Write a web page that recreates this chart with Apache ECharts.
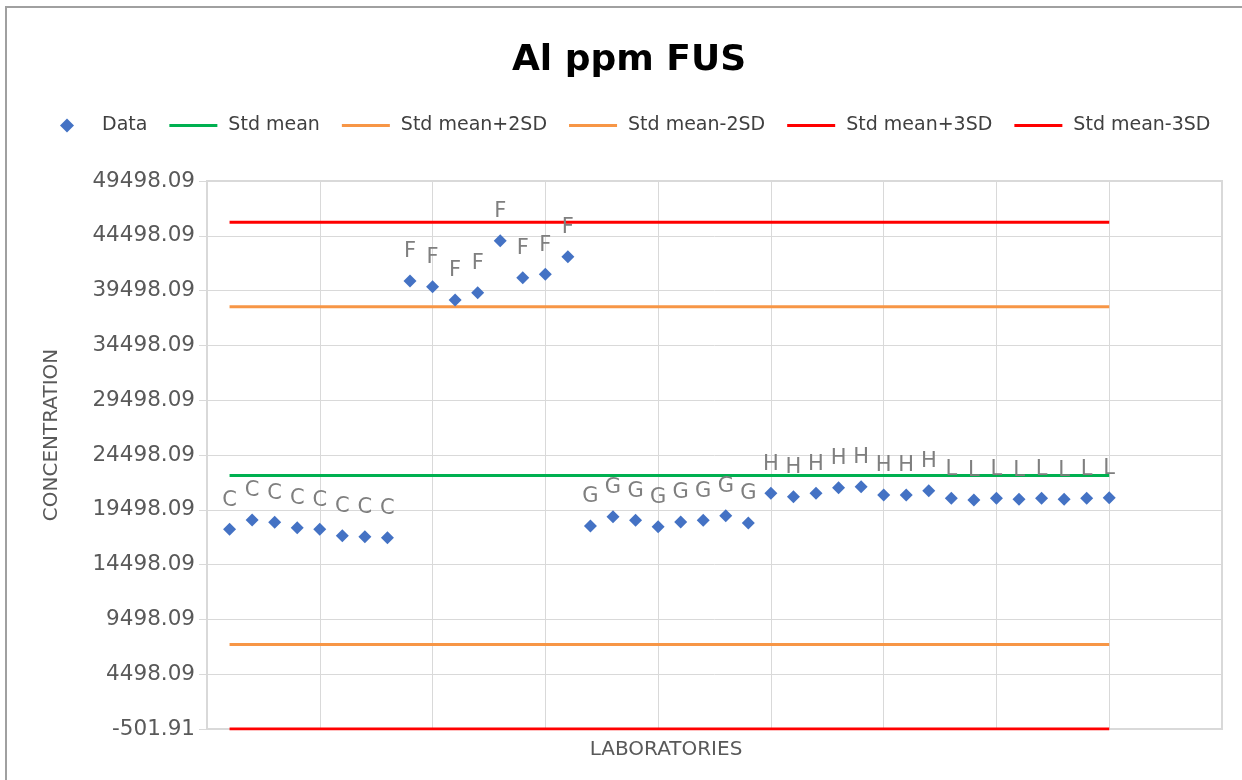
<!DOCTYPE html>
<html>
<head>
<meta charset="utf-8">
<script src="https://cdn.jsdelivr.net/npm/echarts@6/dist/echarts.min.js"></script>
<style>
html,body{margin:0;padding:0;background:#fff;}
#chart{width:1242px;height:780px;}
</style>
</head>
<body>
<div id="chart"></div>
<script>
// ---- data ----
const chartTitle = 'Al ppm FUS';
const labs = [1,2,3,4,5,6,7,8,9,10,11,12,13,14,15,16,17,18,19,20,21,22,23,24,25,26,27,28,29,30,31,32,33,34,35,36,37,38,39,40];
const groups = ['C','C','C','C','C','C','C','C',
                'F','F','F','F','F','F','F','F',
                'G','G','G','G','G','G','G','G',
                'H','H','H','H','H','H','H','H',
                'L','L','L','L','L','L','L','L'];
const conc = [17719,18567,18357,17865,17719,17135,17044,16952,
              40374,39854,38640,39307,44051,40675,40985,42591,
              18020,18868,18540,17956,18385,18540,18960,18294,
              21003,20693,21003,21514,21606,20848,20848,21241,
              20547,20393,20547,20456,20547,20456,20547,20602];
const refNames = ['Std mean','Std mean+2SD','Std mean-2SD','Std mean+3SD','Std mean-3SD'];
const refValues = [22618, 38031, 7205, 45738, -501.91];
const yMin = -501.91, yMax = 49498.09, yStep = 5000;
const xMin = 0, xMax = 45, xStep = 5;

// ---- styles ----
const refColors = ['#00b050','#f79646','#f79646','#ff0000','#ff0000'];
const FONT = 'DejaVu Sans';
const LINE_ICON = 'path://M0,0 L48,0 L48,3 L0,3 Z';
const DIAMOND_ICON = 'path://M7,0 L14,7 L7,14 L0,7 Z';

const chart = echarts.init(document.getElementById('chart'), null, {renderer:'canvas'});

const scatterData = labs.map((x,i)=>[x, conc[i], groups[i]]);
const lineSeries = refNames.map((n,i)=>({
  name: n,
  type: 'line',
  symbol: 'none',
  z: 2,
  lineStyle: {color: refColors[i], width: 3},
  itemStyle: {color: refColors[i]},
  data: [[labs[0], refValues[i]], [labs[labs.length-1], refValues[i]]],
  silent: true
}));

const option = {
  animation: false,
  backgroundColor: '#fff',
  title: {
    text: chartTitle,
    left: 507,
    top: 38,
    textStyle: {fontFamily: FONT, fontSize: 36, fontWeight: 'bold', color: '#000'}
  },
  legend: {
    left: 55,
    top: 111,
    itemWidth: 48,
    itemHeight: 14,
    itemGap: 22,
    symbolKeepAspect: true,
    textStyle: {fontFamily: FONT, fontSize: 19, color: '#404040', padding: [0,0,0,6]},
    data: [{name:'Data', icon: DIAMOND_ICON, itemStyle:{color:'#4472c4'}}]
      .concat(refNames.map((n,i)=>({name:n, icon: LINE_ICON, itemStyle:{color: refColors[i]}})))
  },
  grid: {
    left: 207, right: 20, top: 181, bottom: 51,
    show: true, borderColor: '#d9d9d9', borderWidth: 2,
    containLabel: false
  },
  xAxis: {
    type: 'value',
    min: xMin, max: xMax, interval: xStep,
    axisLabel: {show: false},
    axisTick: {show: false},
    axisLine: {show: true, onZero: false, lineStyle: {color: '#d9d9d9', width: 2}},
    splitLine: {show: true, lineStyle: {color: '#d9d9d9', width: 1}}
  },
  yAxis: {
    type: 'value',
    min: yMin, max: yMax, interval: yStep,
    axisLabel: {
      fontFamily: FONT, fontSize: 21.5, color: '#595959', margin: 12,
      formatter: v => Number(v).toFixed(2)
    },
    axisTick: {show: true, inside: false, length: 8, lineStyle: {color: '#d9d9d9', width: 1}},
    axisLine: {show: true, onZero: false, lineStyle: {color: '#d9d9d9', width: 2}},
    splitLine: {show: true, lineStyle: {color: '#d9d9d9', width: 1}}
  },
  graphic: [
    {type:'rect', shape:{x:6, y:7, width:1300, height:900}, style:{fill:'none', stroke:'#a0a0a0', lineWidth:2}, silent:true},
    {type:'text', x:52, y:435, rotation: Math.PI/2,
     style:{text:'CONCENTRATION', font:'20px "DejaVu Sans"', fill:'#595959', textAlign:'center', textVerticalAlign:'middle'}},
    {type:'text', x:666, y:750,
     style:{text:'LABORATORIES', font:'20px "DejaVu Sans"', fill:'#595959', textAlign:'center', textVerticalAlign:'middle'}}
  ],
  series: [{
    name: 'Data',
    type: 'scatter',
    symbol: 'diamond',
    symbolSize: 13,
    z: 5,
    itemStyle: {color: '#4472c4', opacity: 1},
    label: {
      show: true, position: 'top', distance: 12,
      formatter: p => p.data[2],
      fontFamily: FONT, fontSize: 21, color: '#7f7f7f'
    },
    data: scatterData
  }].concat(lineSeries)
};
chart.setOption(option);
</script>
</body>
</html>
